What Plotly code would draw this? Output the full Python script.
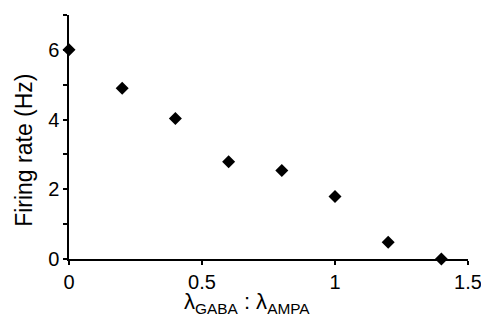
import plotly.graph_objects as go

ratio = [0, 0.2, 0.4, 0.6, 0.8, 1.0, 1.2, 1.4]
rate = [6.0, 4.9, 4.03, 2.79, 2.54, 1.79, 0.48, 0.0]
x_ticks = [0, 0.5, 1, 1.5]
x_tick_labels = ["0", "0.5", "1", "1.5"]
y_ticks = [0, 2, 4, 6]
y_tick_labels = ["0", "2", "4", "6"]

fig = go.Figure()
fig.add_trace(go.Scatter(
    x=ratio, y=rate, mode="markers",
    marker=dict(symbol="diamond", size=10, color="black"),
    cliponaxis=False, showlegend=False,
))

font = "Liberation Sans, Arial, sans-serif"
fig.update_layout(
    width=481, height=328,
    margin=dict(l=69, r=13, t=15, b=69, autoexpand=False),
    paper_bgcolor="white", plot_bgcolor="white",
    font=dict(family=font, color="black", size=20),
    xaxis=dict(
        range=[0, 1.5], tickvals=x_ticks, ticktext=x_tick_labels,
        showgrid=False, zeroline=False, showline=True, linecolor="black", linewidth=1.5,
        ticks="outside", ticklen=4, tickwidth=1.5, tickcolor="black",
        tickfont=dict(size=20), ticklabeloverflow="allow", automargin=False,
    ),
    yaxis=dict(
        range=[0, 7], tickvals=y_ticks, ticktext=y_tick_labels,
        showgrid=False, zeroline=False, showline=True, linecolor="black", linewidth=1.5,
        ticks="outside", ticklen=4, tickwidth=1.5, tickcolor="black",
        minor=dict(dtick=1, ticks="outside", ticklen=4, tickwidth=1.5, tickcolor="black", showgrid=False),
        tickfont=dict(size=20), ticklabeloverflow="allow", automargin=False,
    ),
    annotations=[
        dict(text="Firing rate (Hz)", textangle=-90, xref="paper", yref="paper",
             x=-0.113, y=0.447, xanchor="center", yanchor="middle", showarrow=False,
             font=dict(size=23)),
        dict(text="λ<sub>GABA</sub> : λ<sub>AMPA</sub>", xref="paper", yref="paper",
             x=0.446, y=-0.18, xanchor="center", yanchor="middle", showarrow=False,
             font=dict(size=22)),
    ],
)

fig.write_html("out.html")
